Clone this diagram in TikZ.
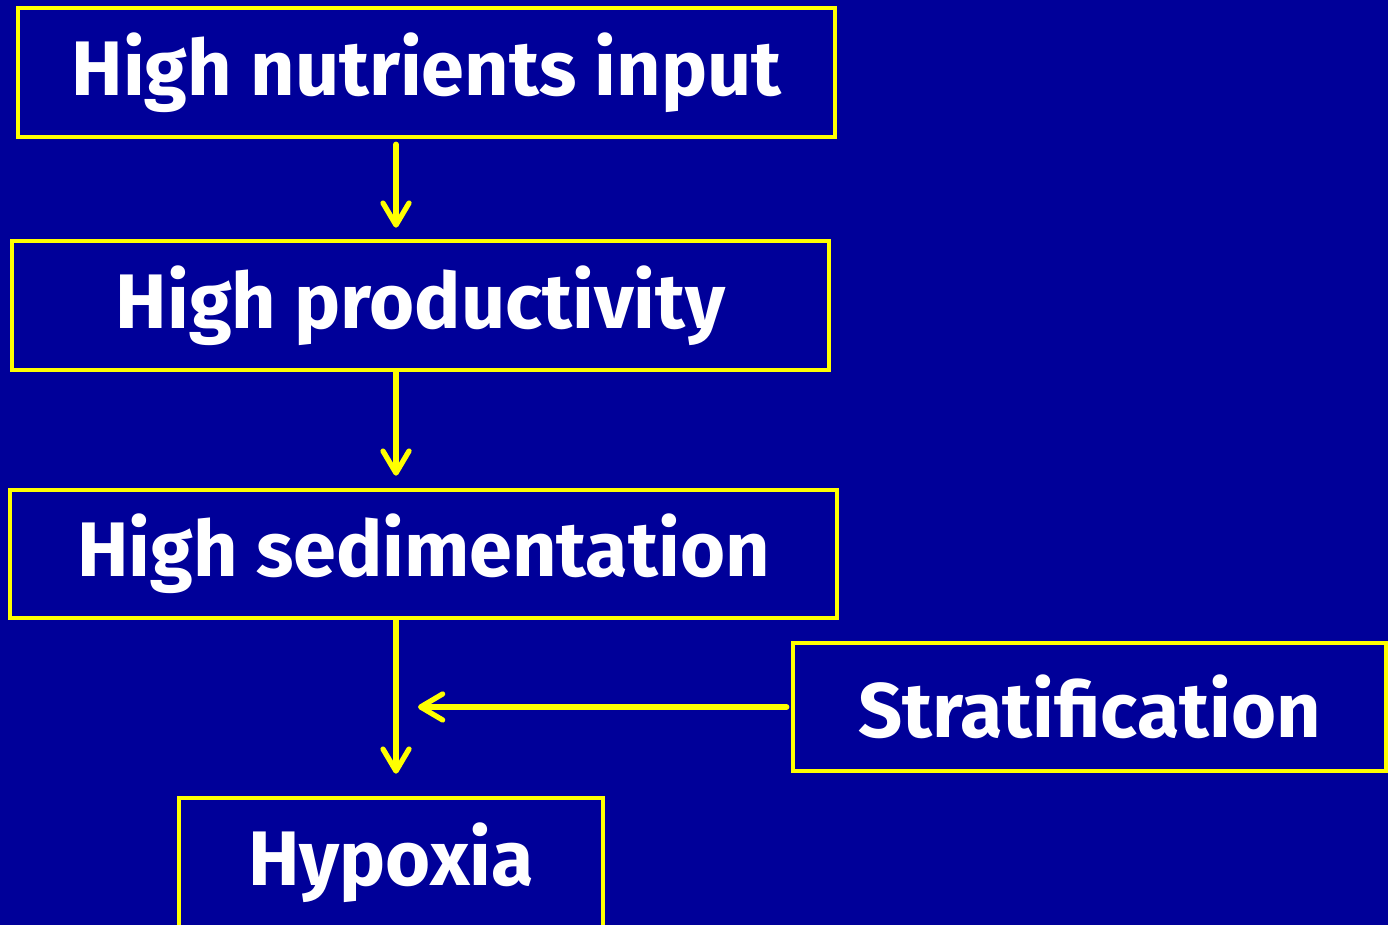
\documentclass[tikz,border=0pt]{standalone}
\usepackage{fontspec}
\setmainfont{Fira Sans}
\usetikzlibrary{arrows.meta}
\definecolor{slideblue}{RGB}{0,0,153}
\definecolor{slideyellow}{RGB}{255,255,0}
\begin{document}
\begin{tikzpicture}[
    box/.style={draw=slideyellow, line width=1.3pt, text=white, font=\fontsize{22}{26}\selectfont\bfseries, inner sep=0pt},
    arr/.style={draw=slideyellow, line width=1.5pt, line cap=round, -{Straight Barb[length=2.2mm, width=2.6mm, round]}}
  ]
    \useasboundingbox (0, 0) rectangle (13.88, 9.25);
    \fill[slideblue] (0, 0) rectangle (13.88, 9.25);

    \node[box, minimum width=8.17cm, minimum height=1.29cm] (nut) at (4.265, 8.525) {High nutrients input};
    \node[box, minimum width=8.17cm, minimum height=1.29cm] (prod) at (4.205, 6.195) {High productivity};
    \node[box, minimum width=8.27cm, minimum height=1.28cm] (sed) at (4.235, 3.71) {High sedimentation};
    \node[box, minimum width=5.93cm, minimum height=1.28cm] (strat) at (10.895, 2.18) {Stratification};
    \node[box, minimum width=4.24cm, minimum height=1.29cm] (hyp) at (3.91, 0.625) {Hypoxia};

    \coordinate (spine) at (3.96, 0);

    \draw[arr, shorten <=0.05cm, shorten >=0.11cm] (nut.south -| spine) -- (prod.north -| spine);
    \draw[arr, shorten >=0.12cm] (prod.south -| spine) -- (sed.north -| spine);
    \draw[arr, shorten >=0.22cm] (sed.south -| spine) -- (hyp.north -| spine);
    \draw[arr, shorten <=0.04cm, shorten >=0.22cm] (strat.west) -- (strat.west -| spine);
  \end{tikzpicture}
\end{document}
